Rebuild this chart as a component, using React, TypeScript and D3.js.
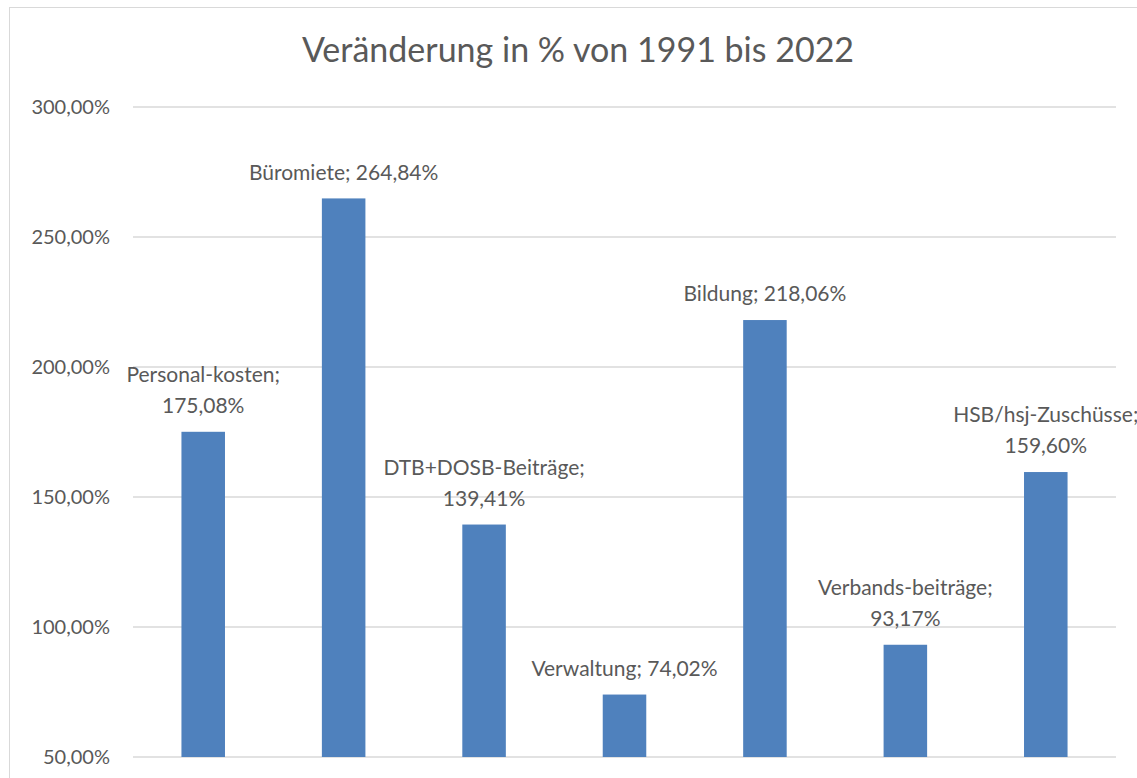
import React, { useEffect } from "react";
import * as d3 from "d3";

const categories = [
  "Personal-kosten",
  "Büromiete",
  "DTB+DOSB-Beiträge",
  "Verwaltung",
  "Bildung",
  "Verbands-beiträge",
  "HSB/hsj-Zuschüsse",
];
const values = [175.08, 264.84, 139.41, 74.02, 218.06, 93.17, 159.6];
// whether the data label wraps onto two lines
const wrapped = [true, false, true, false, false, true, true];
const yTicks = [50, 100, 150, 200, 250, 300];

const W = 1137;
const H = 778;
const textColor = "#595959";
const font = "Lato, 'Open Sans', sans-serif";

const fmt = (v: number) => v.toFixed(2).replace(".", ",") + "%";

export default function App() {
  useEffect(() => {
    document.body.style.margin = "0";
  }, []);

  const x = d3.scaleBand<string>().domain(categories).range([133, 1116]).paddingInner(0.69).paddingOuter(0.345);
  const y = d3.scaleLinear().domain([50, 300]).range([757, 107]);

  return (
    <svg width={W} height={H} style={{ display: "block" }}>
      <rect x={0} y={0} width={W} height={H} fill="#fff" />
      <rect x={9.5} y={7.5} width={W + 20} height={H + 20} fill="none" stroke="#d9d9d9" strokeWidth={1} />
      <text x={578} y={50} dy="0.35em" textAnchor="middle" fontFamily={font} fontSize={34} fill={textColor}>
        Veränderung in % von 1991 bis 2022
      </text>
      {yTicks.map((t) => (
        <g key={t}>
          <line x1={133} x2={1116} y1={y(t)} y2={y(t)} stroke="#d9d9d9" strokeWidth={1.3} />
          <text x={110} y={y(t)} dy="0.35em" textAnchor="end" fontFamily={font} fontSize={20} fill={textColor}>
            {fmt(t)}
          </text>
        </g>
      ))}
      {categories.map((c, i) => {
        const bx = x(c)!;
        const top = y(values[i]);
        const cx = bx + x.bandwidth() / 2;
        const lines = wrapped[i] ? [c + ";", fmt(values[i])] : [c + "; " + fmt(values[i])];
        return (
          <g key={c}>
            <rect x={bx} y={top} width={x.bandwidth()} height={y(50) - top} fill="#4f81bd" />
            {lines.map((l, j) => (
              <text
                key={j}
                x={cx}
                y={top - 26 - (lines.length - 1 - j) * 31}
                dy="0.35em"
                textAnchor="middle"
                fontFamily={font}
                fontSize={21}
                fill={textColor}
              >
                {l}
              </text>
            ))}
          </g>
        );
      })}
    </svg>
  );
}
